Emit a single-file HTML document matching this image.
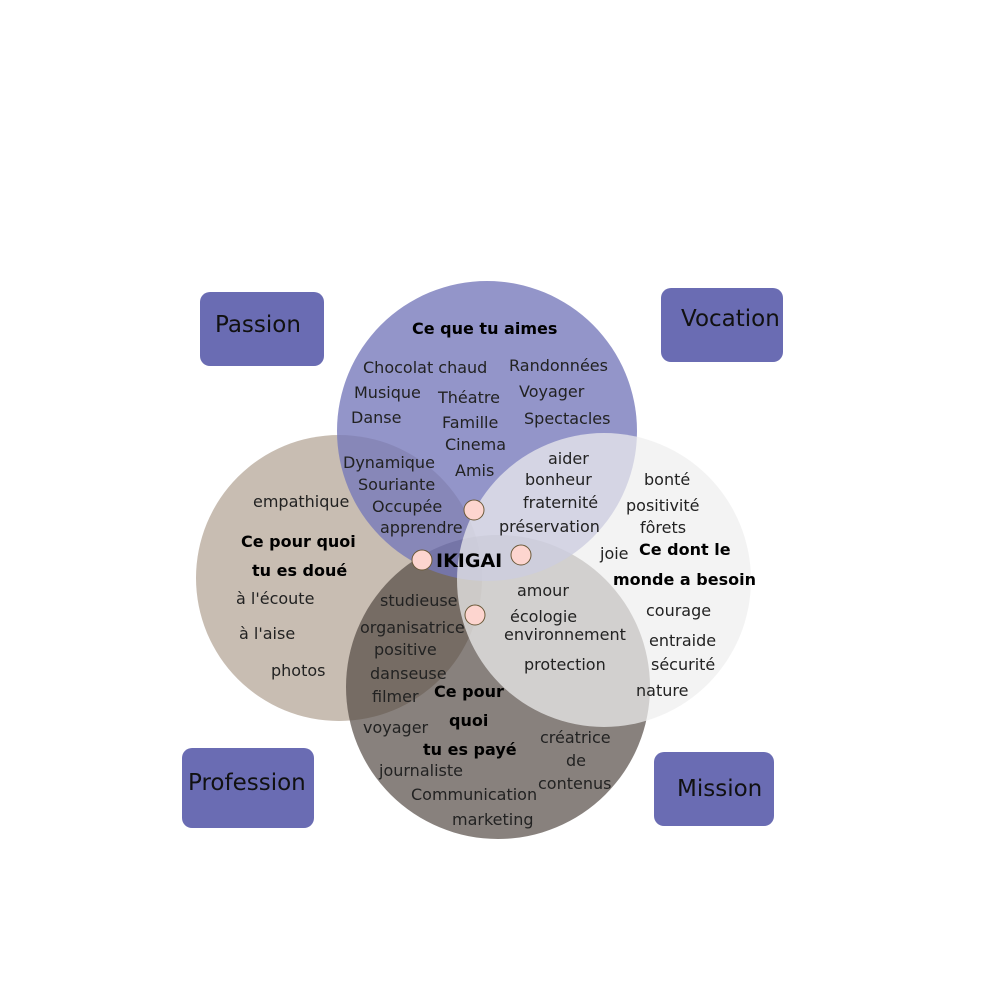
<!DOCTYPE html>
<html><head><meta charset="utf-8"><style>
body{margin:0;background:#fff}
svg text{font-family:"DejaVu Sans",sans-serif;fill:#222}
.t{font-size:16px}
.b{font-size:16px;font-weight:bold;fill:#000}
.lab{font-size:23px;fill:#111}
</style></head><body>
<svg width="1000" height="1000" viewBox="0 0 1000 1000" xmlns="http://www.w3.org/2000/svg">
<g fill="#6a6cb3">
<rect x="200" y="292" width="124" height="74" rx="10"/>
<rect x="661" y="288" width="122" height="74" rx="10"/>
<rect x="182" y="748" width="132" height="80" rx="10"/>
<rect x="654" y="752" width="120" height="74" rx="10"/>
</g>
<circle cx="339" cy="578" r="143" fill="#c8bdb2"/>
<circle cx="498" cy="687" r="152" fill="#4f4540" fill-opacity="0.68"/>
<circle cx="487" cy="431" r="150" fill="#7577ba" fill-opacity="0.78"/>
<circle cx="604" cy="580" r="147" fill="#eeeeee" fill-opacity="0.72"/>
<g fill="#fdd5cf" stroke="#6b5a3a" stroke-width="1">
<circle cx="474" cy="510" r="10"/>
<circle cx="422" cy="560" r="10"/>
<circle cx="521" cy="555" r="10"/>
<circle cx="475" cy="615" r="10"/>
</g>
<text class="lab" x="215" y="332">Passion</text>
<text class="lab" x="681" y="326">Vocation</text>
<text class="lab" x="188" y="790">Profession</text>
<text class="lab" x="677" y="796">Mission</text>
<text class="b" x="412" y="334">Ce que tu aimes</text>
<text class="t" x="363" y="373">Chocolat chaud</text>
<text class="t" x="509" y="371">Randonnées</text>
<text class="t" x="354" y="398">Musique</text>
<text class="t" x="438" y="403">Théatre</text>
<text class="t" x="519" y="397">Voyager</text>
<text class="t" x="351" y="423">Danse</text>
<text class="t" x="442" y="428">Famille</text>
<text class="t" x="524" y="424">Spectacles</text>
<text class="t" x="445" y="450">Cinema</text>
<text class="t" x="455" y="476">Amis</text>
<text class="t" x="343" y="468">Dynamique</text>
<text class="t" x="358" y="490">Souriante</text>
<text class="t" x="372" y="512">Occupée</text>
<text class="t" x="380" y="533">apprendre</text>
<text class="t" x="548" y="464">aider</text>
<text class="t" x="525" y="485">bonheur</text>
<text class="t" x="523" y="508">fraternité</text>
<text class="t" x="499" y="532">préservation</text>
<text class="b" x="436" y="567" style="font-size:19px">IKIGAI</text>
<text class="t" x="253" y="507">empathique</text>
<text class="b" x="241" y="547">Ce pour quoi</text>
<text class="b" x="252" y="576">tu es doué</text>
<text class="t" x="236" y="604">à l'écoute</text>
<text class="t" x="239" y="639">à l'aise</text>
<text class="t" x="271" y="676">photos</text>
<text class="t" x="644" y="485">bonté</text>
<text class="t" x="626" y="511">positivité</text>
<text class="t" x="640" y="533">fôrets</text>
<text class="t" x="600" y="559">joie</text>
<text class="b" x="639" y="555">Ce dont le</text>
<text class="b" x="613" y="585">monde a besoin</text>
<text class="t" x="646" y="616">courage</text>
<text class="t" x="649" y="646">entraide</text>
<text class="t" x="651" y="670">sécurité</text>
<text class="t" x="636" y="696">nature</text>
<text class="t" x="517" y="596">amour</text>
<text class="t" x="510" y="622">écologie</text>
<text class="t" x="504" y="640">environnement</text>
<text class="t" x="524" y="670">protection</text>
<text class="t" x="380" y="606">studieuse</text>
<text class="t" x="360" y="633">organisatrice</text>
<text class="t" x="374" y="655">positive</text>
<text class="t" x="370" y="679">danseuse</text>
<text class="t" x="372" y="702">filmer</text>
<text class="b" x="434" y="697">Ce pour</text>
<text class="b" x="449" y="726">quoi</text>
<text class="b" x="423" y="755">tu es payé</text>
<text class="t" x="363" y="733">voyager</text>
<text class="t" x="379" y="776">journaliste</text>
<text class="t" x="540" y="743">créatrice</text>
<text class="t" x="566" y="766">de</text>
<text class="t" x="538" y="789">contenus</text>
<text class="t" x="411" y="800">Communication</text>
<text class="t" x="452" y="825">marketing</text>
</svg>
</body></html>
